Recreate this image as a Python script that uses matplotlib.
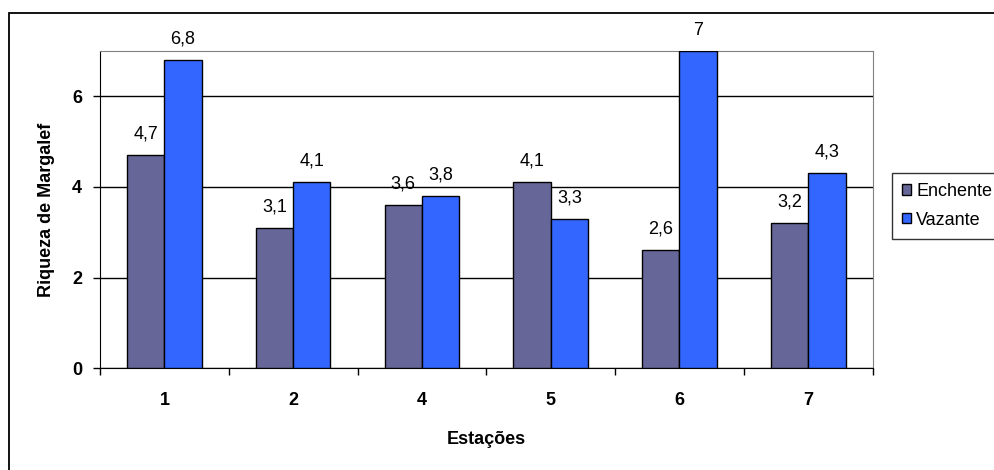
import numpy as np
import matplotlib.pyplot as plt
from matplotlib.patches import Rectangle

plt.rcParams['font.family'] = ['Liberation Sans', 'DejaVu Sans']

estacoes = ['1', '2', '4', '5', '6', '7']
enchente = [4.7, 3.1, 3.6, 4.1, 2.6, 3.2]
vazante = [6.8, 4.1, 3.8, 3.3, 7.0, 4.3]
enchente_lbl = ['4,7', '3,1', '3,6', '4,1', '2,6', '3,2']
vazante_lbl = ['6,8', '4,1', '3,8', '3,3', '7', '4,3']

fig = plt.figure(figsize=(9.95, 4.7), dpi=100)
ax = fig.add_axes([0.1005, 0.217, 0.7765, 0.674])

# outer chart frame
fig.patches.append(Rectangle((0.009, -0.1), 1.2, 1.072, transform=fig.transFigure,
                             fill=False, edgecolor='black', linewidth=1.3))

x = np.arange(len(estacoes))
w = 0.29
b1 = ax.bar(x - w / 2, enchente, w, color='#666699', edgecolor='black', linewidth=1,
            label='Enchente', zorder=3)
b2 = ax.bar(x + w / 2, vazante, w, color='#3366FF', edgecolor='black', linewidth=1,
            label='Vazante', zorder=3)

for bars, labels in [(b1, enchente_lbl), (b2, vazante_lbl)]:
    for rect, lbl in zip(bars, labels):
        ax.annotate(lbl, (rect.get_x() + rect.get_width() / 2, rect.get_height()),
                    xytext=(0, 9), textcoords='offset points', ha='center',
                    va='bottom', fontsize=13)

ax.set_xlim(-0.5, len(estacoes) - 0.5)
ax.set_ylim(0, 7)
ax.set_yticks([0, 2, 4, 6])
ax.yaxis.grid(True, color='black', linewidth=1, zorder=0)
ax.set_axisbelow(True)
ax.tick_params(axis='y', labelsize=13, length=5, width=1, direction='out', pad=8)
for t in ax.get_yticklabels():
    t.set_fontweight('bold')

ax.set_xticks(x)
ax.set_xticklabels(estacoes, fontsize=13, fontweight='bold')
ax.tick_params(axis='x', length=0, pad=17)
ax.set_xticks(np.arange(-0.5, len(estacoes)), minor=True)
ax.tick_params(axis='x', which='minor', length=5, width=1, direction='out')

ax.spines['left'].set_color('black')
ax.spines['bottom'].set_color('black')
ax.spines['top'].set_color('#808080')
ax.spines['right'].set_color('#808080')

ax.set_ylabel('Riqueza de Margalef', fontsize=13, fontweight='bold', labelpad=12)
ax.set_xlabel('Estações', fontsize=13, fontweight='bold', labelpad=16)

leg = fig.legend(loc='upper left', bbox_to_anchor=(0.8965, 0.632), fontsize=13,
                 frameon=True, fancybox=False, edgecolor='black', handlelength=0.5,
                 handleheight=0.5, handletextpad=0.3, borderpad=0.55, labelspacing=0.65,
                 borderaxespad=0)
leg.get_frame().set_linewidth(1)

fig.savefig('out.png', dpi=100)
